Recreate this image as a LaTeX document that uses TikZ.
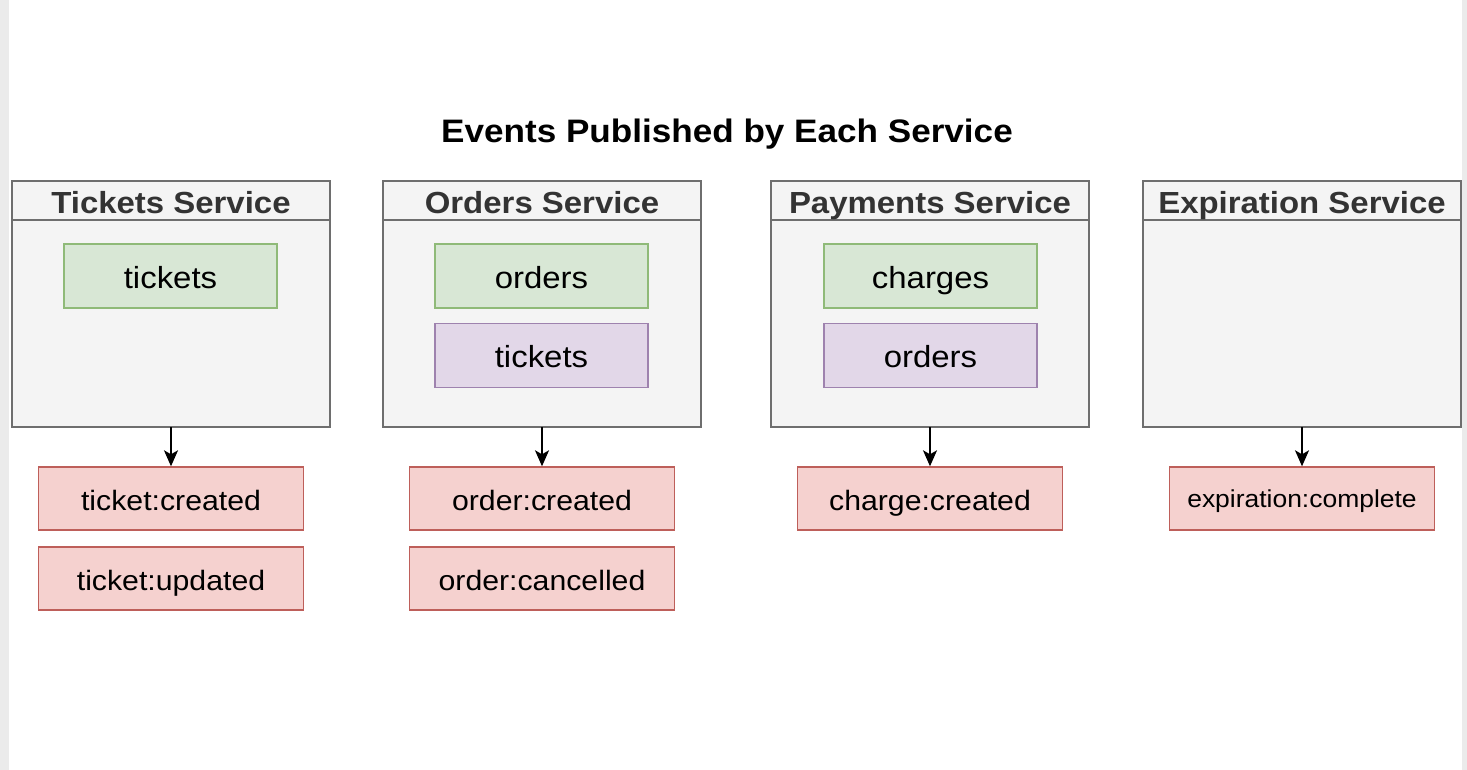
\documentclass[tikz,border=0pt]{standalone}
\usepackage{fontspec}
\setmainfont{Liberation Sans}[FakeStretch=1.08]
\usetikzlibrary{arrows.meta}
\definecolor{svcfill}{HTML}{F4F4F4}
\definecolor{svcdraw}{HTML}{6E6E6E}
\definecolor{svctext}{HTML}{333333}
\definecolor{grfill}{HTML}{D8E7D5}
\definecolor{grdraw}{HTML}{8FBA78}
\definecolor{pufill}{HTML}{E2D7E8}
\definecolor{pudraw}{HTML}{9E82AE}
\definecolor{rdfill}{HTML}{F5D1CF}
\definecolor{rddraw}{HTML}{BE5F5A}
\definecolor{edge}{HTML}{EBEBEB}
\tikzset{
  svcbox/.style={draw=svcdraw, fill=svcfill, line width=1.4pt, minimum width=318pt, minimum height=246pt, inner sep=0pt, outer sep=0pt, anchor=north west},
  svchead/.style={text=svctext, font=\fontsize{30.5}{32}\selectfont\bfseries, text height=25.6pt, text depth=0pt, inner sep=0pt},
  innerbox/.style={line width=1.3pt, minimum width=213pt, minimum height=64pt, inner sep=0pt, font=\fontsize{30.5}{32}\selectfont, text height=24.6pt, text depth=0pt},
  greenbox/.style={innerbox, draw=grdraw, fill=grfill},
  purplebox/.style={innerbox, draw=pudraw, fill=pufill},
  eventbox/.style={draw=rddraw, fill=rdfill, line width=1.4pt, minimum width=265pt, minimum height=63pt, inner sep=0pt, font=\fontsize{28}{30}\selectfont, text height=23pt, text depth=0pt},
  pub/.style={line width=1.7pt, -{Stealth[length=16pt,width=14pt,inset=4pt]}}
}
\begin{document}
\begin{tikzpicture}[x=1pt,y=-1pt]
\useasboundingbox (0,0) rectangle (1467,770);
\fill[white] (0,0) rectangle (1467,770);
\fill[edge] (0,0) rectangle (9,770);
\fill[edge] (1462,0) rectangle (1467,770);

\node[anchor=base, font=\fontsize{32.5}{34}\selectfont\bfseries] (title) at (727,142.5) {Events Published by Each Service};

% service boxes
\foreach \n/\x in {ts/12,os/383,ps/771,es/1143}{
  \node[svcbox] (\n) at (\x,181) {};
  \draw[svcdraw, line width=1.4pt] (\x,220) -- (\x+318,220);
}
\node[svchead] (tsh) at (171,200.5) {Tickets Service};
\node[svchead] (osh) at (542,200.5) {Orders Service};
\node[svchead] (psh) at (930,200.5) {Payments Service};
\node[svchead] (esh) at (1302,200.5) {Expiration Service};

% inner collections
\node[greenbox] (tsTickets) at (170.5,276) {tickets};
\node[greenbox] (osOrders) at (541.5,276) {orders};
\node[purplebox] (osTickets) at (541.5,355.5) {tickets};
\node[greenbox] (psCharges) at (930.5,276) {charges};
\node[purplebox] (psOrders) at (930.5,355.5) {orders};

% events
\node[eventbox] (tc) at (171,498.5) {ticket:created};
\node[eventbox] (tu) at (171,578.5) {ticket:updated};
\node[eventbox] (oc) at (542,498.5) {order:created};
\node[eventbox] (ox) at (542,578.5) {order:cancelled};
\node[eventbox] (cc) at (930,498.5) {charge:created};
\node[eventbox, font=\fontsize{24.5}{26}\selectfont, text height=17.6pt] (ec) at (1302,498.5) {expiration:complete};

% arrows
\draw[pub] (ts.south) -- (ts.south |- tc.north);
\draw[pub] (os.south) -- (os.south |- oc.north);
\draw[pub] (ps.south) -- (ps.south |- cc.north);
\draw[pub] (es.south) -- (es.south |- ec.north);
\end{tikzpicture}
\end{document}
